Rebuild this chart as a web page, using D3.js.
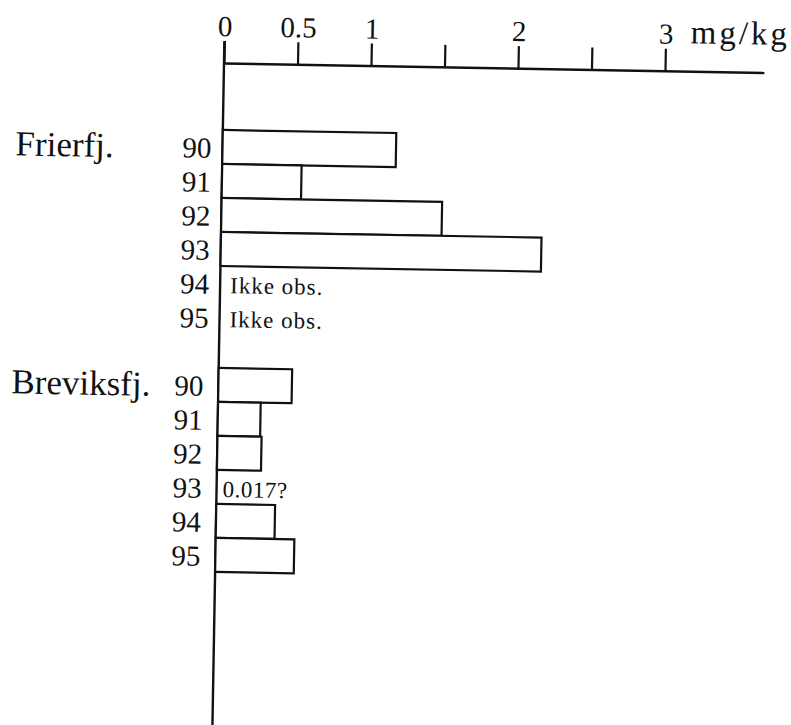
<!DOCTYPE html>
<html>
<head>
<meta charset="utf-8">
<script src="https://cdn.jsdelivr.net/npm/d3@7"></script>
<style>
  html, body { margin: 0; padding: 0; background: #ffffff; }
  svg { display: block; }
  text { font-family: "Liberation Serif", "Times New Roman", serif; fill: #111; }
</style>
</head>
<body>
<svg id="chart" width="791" height="725"></svg>
<script>
// ---- data ----
const years = ["90", "91", "92", "93", "94", "95"];
const sites = ["Frierfj.", "Breviksfj."];
const frierfjValues = [1.18, 0.54, 1.50, 2.18, null, null];
const breviksfjValues = [0.50, 0.29, 0.30, null, 0.40, 0.535];
const frierfjNotes = [null, null, null, null, "Ikke obs.", "Ikke obs."];
const breviksfjNotes = [null, null, null, "0.017?", null, null];
const tickValues = [0, 0.5, 1, 1.5, 2, 2.5, 3];
const tickLabels = ["0", "0.5", "1", "", "2", "", "3"];
const unitLabel = "mg/kg";

// ---- build rows ----
const seriesValues = [frierfjValues, breviksfjValues];
const seriesNotes = [frierfjNotes, breviksfjNotes];
const rows = [];
sites.forEach((site, si) => {
  years.forEach((yr, yi) => {
    rows.push({ key: si + "-" + yr, site, si, year: yr, first: yi === 0,
                value: seriesValues[si][yi], note: seriesNotes[si][yi] });
  });
});
const rowKeys = [];
rows.forEach((r, i) => {
  rowKeys.push(r.key);
  if (i === years.length - 1) rowKeys.push("gap");
});

// ---- layout ----
const svg = d3.select("#chart");
svg.append("rect").attr("width", 791).attr("height", 725).attr("fill", "#fff");
const g = svg.append("g").attr("transform", "translate(224,63) rotate(1)");

const x = d3.scaleLinear().domain([0, 3.673]).range([0, 540]);
const rowStep = 34;
const y = d3.scaleBand().domain(rowKeys).range([67, 67 + rowStep * rowKeys.length]).padding(0);

// top axis
const axis = d3.axisTop(x)
  .tickValues(tickValues)
  .tickFormat((d, i) => tickLabels[i])
  .tickSize(22)
  .tickSizeOuter(0)
  .tickPadding(5);
const ax = g.append("g").call(axis);
ax.select(".domain").attr("stroke", "#111").attr("stroke-width", 2.4);
ax.selectAll(".tick line").attr("stroke", "#111").attr("stroke-width", 2.2);
ax.selectAll(".tick text")
  .attr("font-family", "Liberation Serif, serif")
  .attr("font-size", 29)
  .attr("fill", "#111");

g.append("text")
  .attr("x", x(3) + 25)
  .attr("y", -28)
  .attr("font-size", 33)
  .attr("letter-spacing", 3)
  .text(unitLabel);

// vertical axis line
g.append("line")
  .attr("x1", x(0)).attr("x2", x(0))
  .attr("y1", -22).attr("y2", 672)
  .attr("stroke", "#111").attr("stroke-width", 2.4);

// bars
g.selectAll("rect.bar")
  .data(rows.filter(r => r.value != null))
  .join("rect")
  .attr("class", "bar")
  .attr("x", x(0))
  .attr("y", d => y(d.key))
  .attr("width", d => x(d.value) - x(0))
  .attr("height", y.bandwidth())
  .attr("fill", "#fff")
  .attr("stroke", "#111")
  .attr("stroke-width", 2.2);

// year labels
g.selectAll("text.year")
  .data(rows)
  .join("text")
  .attr("class", "year")
  .attr("x", d => x(0) - (d.si === 0 ? 11 : 15))
  .attr("y", d => y(d.key) + y.bandwidth() / 2 + 11)
  .attr("text-anchor", "end")
  .attr("font-size", 29)
  .text(d => d.year);

// site labels
g.selectAll("text.site")
  .data(rows.filter(r => r.first))
  .join("text")
  .attr("class", "site")
  .attr("x", x(0) - 207)
  .attr("y", d => y(d.key) + y.bandwidth() / 2 + 12)
  .attr("font-size", 35)
  .text(d => d.site);

// notes
g.selectAll("text.note")
  .data(rows.filter(r => r.note))
  .join("text")
  .attr("class", "note")
  .attr("x", d => x(0) + (d.si === 0 ? 10 : 6))
  .attr("y", d => y(d.key) + y.bandwidth() / 2 + 10)
  .attr("font-size", d => d.si === 0 ? 23 : 23)
  .attr("letter-spacing", d => d.si === 0 ? 1 : 0.5)
  .text(d => d.note);
</script>
</body>
</html>
